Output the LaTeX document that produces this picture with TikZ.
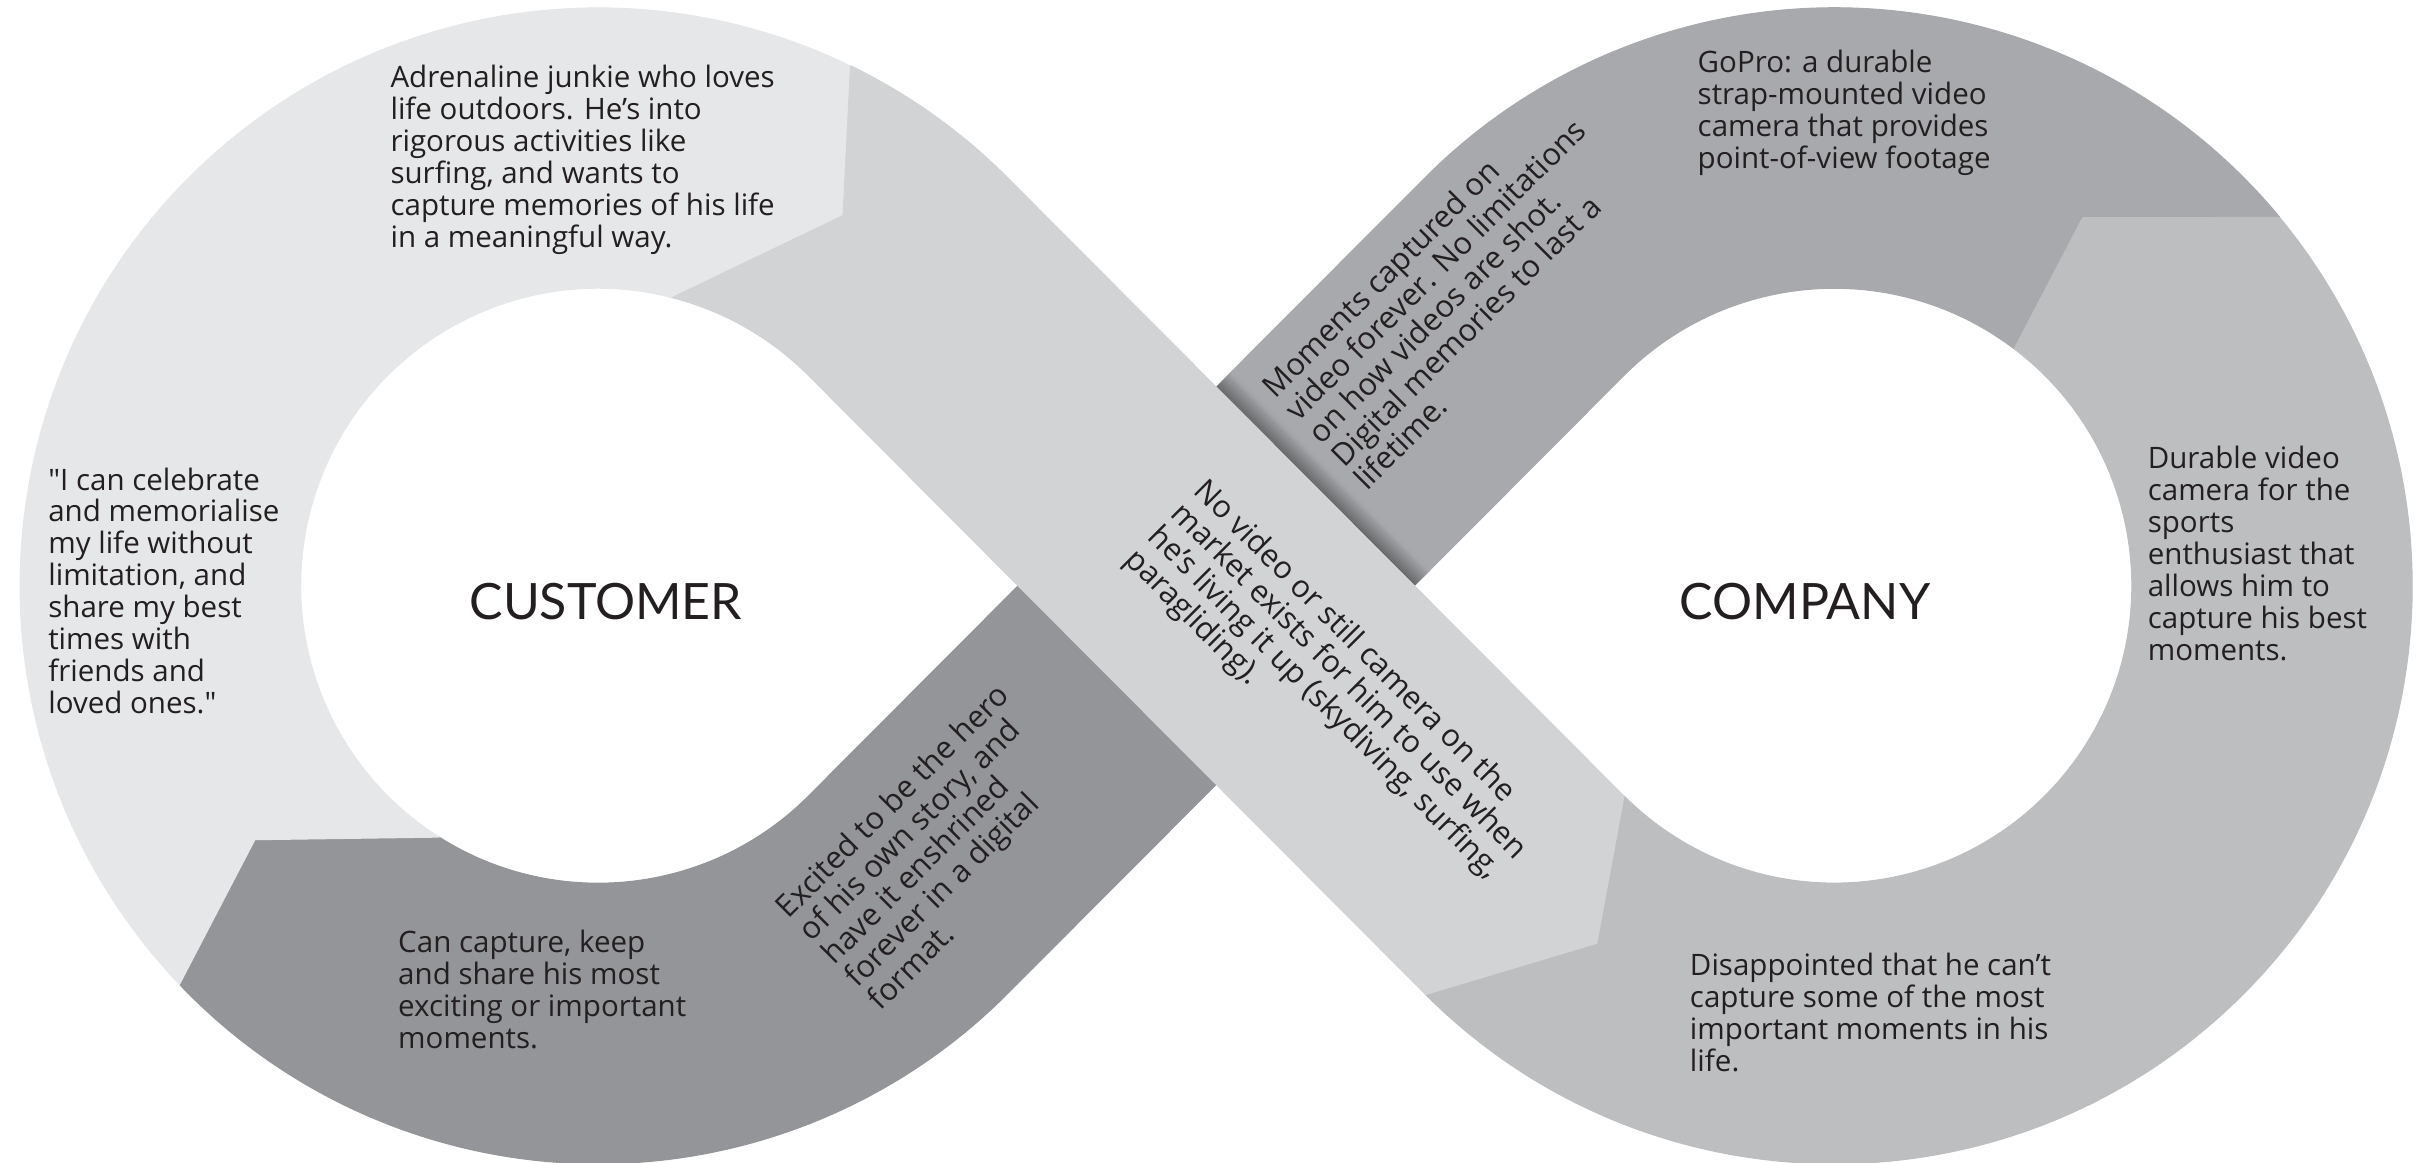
\documentclass[tikz,border=0pt]{standalone}
\usepackage{fontspec}
\setmainfont{Open Sans}
\newfontfamily\titlefont{Lato}
\usetikzlibrary{calc}
\definecolor{tint10}{HTML}{E6E7E8}
\definecolor{tint20}{HTML}{D1D3D4}
\definecolor{tint30}{HTML}{BCBEC0}
\definecolor{tint40}{HTML}{A7A9AC}
\definecolor{tint50}{HTML}{939598}
\definecolor{ink}{HTML}{231F20}
\colorlet{shadowc}{tint40!62!black}
\tikzset{
  seg/.style={fill=#1, draw=#1, line width=0.4pt, line join=round},
  note/.style={font=\fontsize{10.9}{11.8}\selectfont, text=ink, align=left, inner sep=0pt, anchor=north west},
  slant/.style={note, font=\fontsize{11.4}{12}\selectfont, rotate=#1},
  heading/.style={font=\titlefont\fontsize{18.5}{22}\selectfont, text=ink, inner sep=0pt},
}

\begin{document}
\begin{tikzpicture}[x=0.02cm, y=0.02cm]
        \useasboundingbox (0,0) rectangle (1568,754);                           % Rahmen
        \coordinate (L) at (388,374);                                           % Mitte linke Schleife
        \coordinate (R) at (1190,374);                                          % Mitte rechte Schleife
        \coordinate (X) at (789,374);                                           % Kreuzung
        \coordinate (o12) at ($(L)+(64.1:375)$);                                % Schnitt oben links
        \coordinate (t12) at ($(L)+(56.5:288)$);
        \coordinate (i12) at ($(L)+(75.6:193)$);
        \coordinate (o51) at ($(L)+(223.6:375)$);                               % Schnitt unten links
        \coordinate (t51) at ($(L)+(216.5:277)$);
        \coordinate (i51) at ($(L)+(237.7:193)$);
        \coordinate (o23) at ($(R)+(225:375)$);                                 % Schnitt unten rechts
        \coordinate (t23) at ($(R)+(236.4:278.5)$);
        \coordinate (i23) at ($(R)+(225:193)$);
        \coordinate (o34) at ($(R)+(39.6:375)$);                                % Schnitt oben rechts
        \coordinate (t34) at ($(R)+(56:288)$);
        \coordinate (i34) at ($(R)+(52.8:193)$);
        \coordinate (Ahi) at ($(L)+(45:375)$);                                  % Band A, obere Kante
        \coordinate (Ain) at ($(L)+(45:193)$);                                  % Band A, untere Kante
        \coordinate (Bhi1) at ($(L)+(315:193)$);                                % Band B, obere Kante
        \coordinate (Bhi2) at ($(R)+(135:375)$);
        \coordinate (Blo1) at ($(L)+(315:375)$);                                % Band B, untere Kante
        \coordinate (Blo2) at ($(R)+(135:193)$);
        \coordinate (S1) at (intersection of Ahi--i23 and Bhi1--Bhi2);          % Schattenkante
        \coordinate (S2) at (intersection of Ahi--i23 and Blo1--Blo2);
        % Band B unten links
        \fill[seg=tint50] ($(X)+(135:91)$) -- (Bhi1) arc[start angle=315, end angle=237.7, radius=3.86cm] -- (t51) -- (o51) arc[start angle=223.6, end angle=315, radius=7.5cm] -- ($(X)+(-45:91)$) -- cycle;
        % Band B oben rechts
        \fill[seg=tint40] (o34) arc[start angle=39.6, end angle=135, radius=7.5cm] -- ($(X)+(135:91)$) -- ($(X)+(-45:91)$) -- (Blo2) arc[start angle=135, end angle=52.8, radius=3.86cm] -- (t34) -- cycle;
        \foreach \k in {0,...,11}{                                              % Schatten unter Band A
            \pgfmathtruncatemacro\p{min(100,\k*9)}
            \fill[tint40!\p!shadowc] ($(S1)+(45:\k*1.2)$) -- ($(S2)+(45:\k*1.2)$) -- ($(S2)+(45:\k*1.2+1.3)$) -- ($(S1)+(45:\k*1.2+1.3)$) -- cycle;
        }
        % linke Schleife
        \fill[seg=tint10] (o51) arc[start angle=223.6, end angle=64.1, radius=7.5cm] -- (t12) -- (i12) arc[start angle=75.6, end angle=237.7, radius=3.86cm] -- (t51) -- cycle;
        % rechte Schleife
        \fill[seg=tint30] (o23) arc[start angle=225, end angle=399.6, radius=7.5cm] -- (t34) -- (i34) arc[start angle=52.8, end angle=-135, radius=3.86cm] -- (t23) -- cycle;
        % Band A
        \fill[seg=tint20] (o12) arc[start angle=64.1, end angle=45, radius=7.5cm] -- (i23) -- (t23) -- (o23) -- (Ain) arc[start angle=45, end angle=75.6, radius=3.86cm] -- (t12) -- cycle;
        \node[note] (persona) at (253,712) {Adrenaline junkie who loves\\life outdoors. He’s into\\rigorous activities like\\surfing, and wants to\\capture memories of his life\\in a meaningful way.};
        \node[note] (quote) at (31,451) {\textquotedbl I can celebrate\\and memorialise\\my life without\\limitation, and\\share my best\\times with\\friends and\\loved ones.\textquotedbl};
        \node[note] (gain) at (258,151) {Can capture, keep\\and share his most\\exciting or important\\moments.};
        \node[slant=45] (excited) at (500.5,168.1) {Excited to be the hero\\of his own story, and\\have it enshrined\\forever in a digital\\format.};
        \node[slant=-45] (problem) at (784.5,446) {No video or still camera on the\\market exists for him to use when\\he’s living it up (skydiving, surfing,\\paragliding).};
        \node[slant=45] (moments) at (816.2,505.8) {Moments captured on\\video forever. No limitations\\on how videos are shot.\\Digital memories to last a\\lifetime.};
        \node[note] (gopro) at (1101,722) {GoPro: a durable\\strap-mounted video\\camera that provides\\point-of-view footage};
        \node[note] (product) at (1393,465) {Durable video\\camera for the\\sports\\enthusiast that\\allows him to\\capture his best\\moments.};
        \node[note] (pain) at (1096,136) {Disappointed that he can’t\\capture some of the most\\important moments in his\\life.};
        \node[heading] (customer) at (393,364) {CUSTOMER};                       % Titel links
        \node[heading] (company) at (1171,364) {COMPANY};                       % Titel rechts
\end{tikzpicture}
\end{document}
